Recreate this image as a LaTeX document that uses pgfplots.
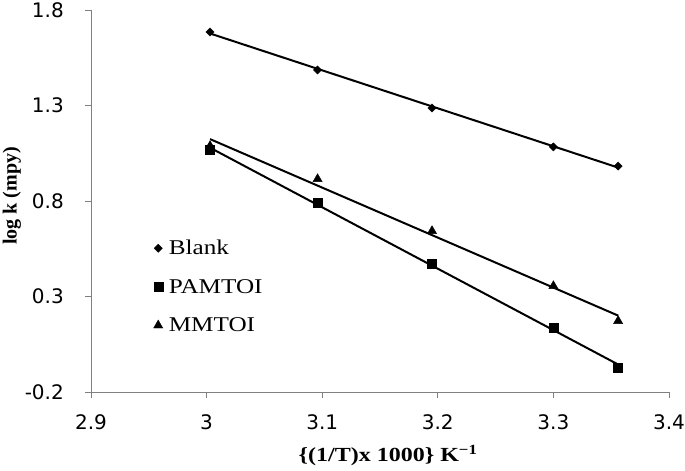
\documentclass[border=0pt]{standalone}
\usepackage{fontspec}
\setmainfont{Liberation Serif}
\newfontfamily\tickfont{DejaVu Sans}
\newfontfamily\widefont[FakeStretch=1.2]{Liberation Serif}
\usepackage{pgfplots}
\pgfplotsset{compat=1.18}
\begin{document}
\begin{tikzpicture}
\useasboundingbox (-91bp,-79bp) rectangle (594bp,392bp);
\begin{axis}[
  at={(0,0)}, anchor=south west,
  scale only axis, width=578bp, height=382bp,
  xmin=2.9, xmax=3.4, ymin=-0.2, ymax=1.8,
  axis lines=left,
  axis line style={-, gray, line width=0.8bp},
  xtick={2.9,3.0,3.1,3.2,3.3,3.4},
  ytick={-0.2,0.3,0.8,1.3,1.8},
  tick align=outside, major tick length=6bp,
  tick style={gray, line width=0.8bp},
  ticklabel style={font=\tickfont\fontsize{20bp}{20bp}\selectfont, inner sep=0pt},
  /pgf/number format/assume math mode=true,
  /pgf/number format/fixed, /pgf/number format/precision=1,
  xticklabel shift=16bp,
  yticklabel style={xshift=-21bp},
  xlabel={\{(1/T)x 1000\} K\textsuperscript{−1}},
  xlabel style={at={(axis description cs:0.514,0)}, anchor=north, yshift=-53bp, inner sep=0pt,
    font=\widefont\fontsize{20bp}{20bp}\selectfont\bfseries},
  ylabel={log k (mpy)},
  ylabel style={at={(axis description cs:0,0.513)}, anchor=center, yshift=79bp, inner sep=0pt,
    font=\fontsize{20bp}{20bp}\selectfont\bfseries},
  legend style={at={(axis description cs:0.108,0.403)}, anchor=north west, draw=none, fill=none,
    font=\widefont\fontsize{21bp}{21bp}\selectfont, row sep=19bp, column sep=4bp, inner sep=0pt},
  legend cell align=left,
]
\addplot[black, line width=2bp, forget plot] coordinates {(3.003,1.677) (3.356,0.975)};
\addplot[black, line width=2bp, forget plot] coordinates {(3.003,1.079) (3.356,-0.056)};
\addplot[black, line width=2bp, forget plot] coordinates {(3.003,1.124) (3.356,0.200)};
\addplot[only marks, black, mark=square*, mark options={rotate=45}, mark size=2.9bp]
  coordinates {(3.003,1.685) (3.096,1.486) (3.195,1.287) (3.300,1.083) (3.356,0.983)};
\addlegendentry{Blank}
\addplot[only marks, black, mark=square*, mark size=4.5bp]
  coordinates {(3.003,1.067) (3.096,0.790) (3.195,0.470) (3.300,0.135) (3.356,-0.074)};
\addlegendentry{PAMTOI}
\addplot[only marks, black, mark=triangle*, mark size=5.3bp]
  coordinates {(3.003,1.088) (3.096,0.915) (3.195,0.643) (3.300,0.355) (3.356,0.172)};
\addlegendentry{MMTOI}
\end{axis}
\end{tikzpicture}
\end{document}
